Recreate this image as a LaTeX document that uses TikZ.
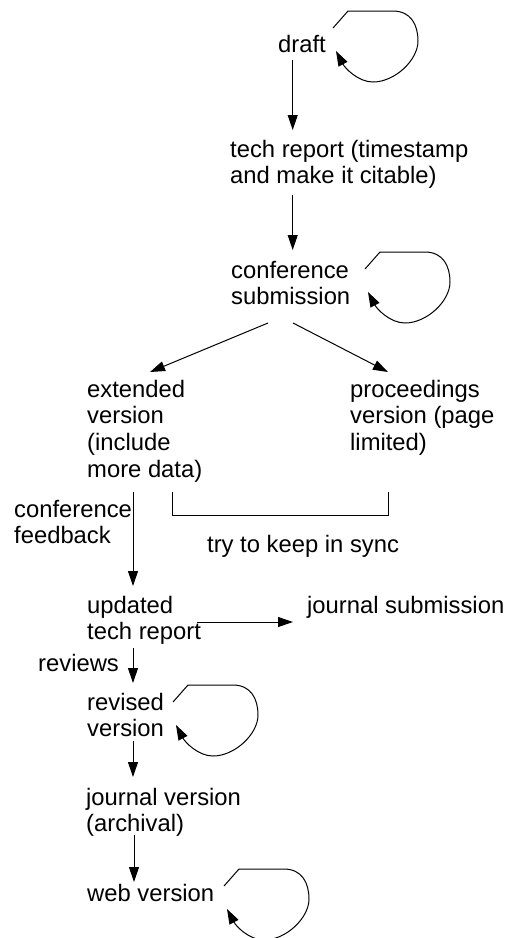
\documentclass[tikz,border=0pt]{standalone}
\usepackage{fontspec}
\setmainfont{Liberation Sans}
\usetikzlibrary{arrows.meta}

\tikzset{
  txt/.style={anchor=base west, inner sep=0pt,
              font=\fontsize{23.8}{26.7}\selectfont},
  ln/.style={line width=1pt, line cap=butt},
  arr/.style={ln, -{Triangle[length=15pt,width=10pt]}},
}

% multi-line text whose baseline is that of its first line
\newcommand\lines[1]{\begin{tabular}[t]{@{}l@{}}#1\end{tabular}}

% self-loop: corner up-right, flat top, round back to an arrow head
\newcommand\selfloop[1]{%
  \draw[arr] (#1) -- ++(15,-17) -- ++(45,0)
    .. controls +(18,0) and +(0,-16) .. ++(25,30)
    .. controls +(0,19) and +(22,0) .. ++(-45,41)
    .. controls +(-15,0) and +(9,17) .. ++(-37,-31);}

\begin{document}
\begin{tikzpicture}[x=1pt,y=-1pt]
  \useasboundingbox (0,0) rectangle (509,938);

  % stages
  \node[txt] (draft) at (278,52) {draft};
  \node[txt] (tech)  at (230,157) {\lines{tech report (timestamp\\and make it citable)}};
  \node[txt] (conf)  at (231,278) {\lines{conference\\submission}};
  \node[txt] (ext)   at (87,397)  {\lines{extended\\version\\(include\\more data)}};
  \node[txt] (proc)  at (350,397) {\lines{proceedings\\version (page\\limited)}};
  \node[txt] (upd)   at (87,613)  {\lines{updated\\tech report}};
  \node[txt] (jsub)  at (307,613) {journal submission};
  \node[txt] (revd)  at (87,710)  {\lines{revised\\version}};
  \node[txt] (jver)  at (86,805)  {\lines{journal version\\(archival)}};
  \node[txt] (web)   at (87,901)  {web version};

  % side labels
  \node[txt] (cfb)  at (14,517)  {\lines{conference\\feedback}};
  \node[txt] (sync) at (207,552) {try to keep in sync};
  \node[txt] (rev)  at (38,671)  {reviews};

  % main flow
  \draw[arr] ([shift={(14.7,8)}]draft.base west) -- ([shift={(62.7,-27)}]tech.base west);
  \draw[arr] ([shift={(62.7,38)}]tech.base west) -- ([shift={(61.7,-28)}]conf.base west);
  \draw[arr] ([shift={(37,45)}]conf.base west) -- ([shift={(63,-25)}]ext.base west);
  \draw[arr] ([shift={(62,45)}]conf.base west) -- ([shift={(38,-25)}]proc.base west);
  \draw[arr] ([shift={(46,95)}]ext.base west) -- ([shift={(46,-27)}]upd.base west);
  \draw[arr] ([shift={(110,9)}]upd.base west) -- ([shift={(-14,9)}]jsub.base west);
  \draw[arr] ([shift={(46,35)}]upd.base west) -- ([shift={(46,-27)}]revd.base west);
  \draw[arr] ([shift={(46,31)}]revd.base west) -- ([shift={(47,-28)}]jver.base west);
  \draw[arr] ([shift={(48,30)}]jver.base west) -- ([shift={(47,-19)}]web.base west);

  % bracket joining the two versions
  \draw[ln] ([shift={(85,95)}]ext.base west) |- ([shift={(38,118)}]proc.base west)
            -- ([shift={(38,95)}]proc.base west);

  % self-loops
  \coordinate (dl) at (333,28);
  \coordinate (cl) at (365,269);
  \coordinate (rl) at (173,702);
  \coordinate (wl) at (224,886);
  \selfloop{dl}
  \selfloop{cl}
  \selfloop{rl}
  \selfloop{wl}
\end{tikzpicture}
\end{document}
